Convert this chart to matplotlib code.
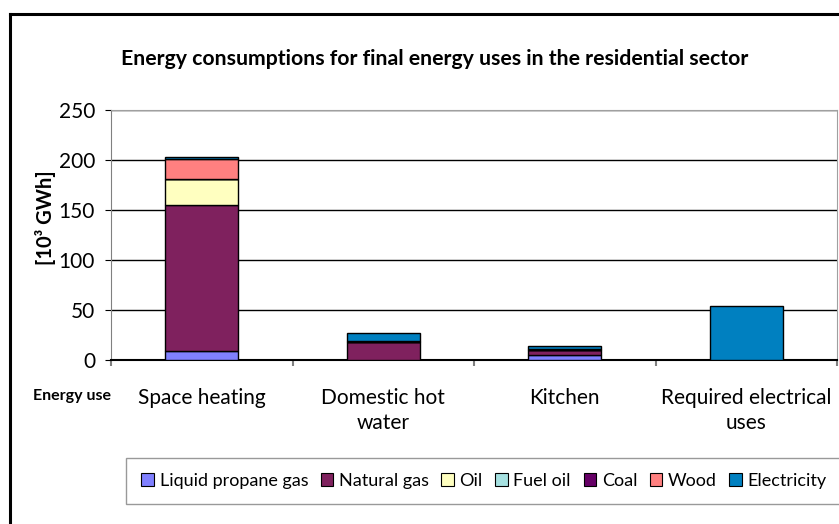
import numpy as np
import matplotlib.pyplot as plt
from matplotlib.patches import Rectangle
from matplotlib.lines import Line2D

plt.rcParams['font.family'] = ['Lato', 'DejaVu Sans']

# categories and stacked series (10^3 GWh)
categories = ['Space heating', 'Domestic hot\nwater', 'Kitchen', 'Required electrical\nuses']
series_names = ['Liquid propane gas', 'Natural gas', 'Oil', 'Fuel oil', 'Coal', 'Wood', 'Electricity']
lpg = [9.5, 0, 5.5, 0]
natural_gas = [145.5, 18, 4.5, 0]
oil = [26, 0, 0, 0]
fuel_oil = [0, 0, 0, 0]
coal = [0.5, 1.5, 1.5, 0]
wood = [20, 0, 0, 0]
electricity = [2, 7.5, 3, 54]
y_ticks = [0, 50, 100, 150, 200, 250]

colors = ['#8080FF', '#7F215E', '#FFFFC0', '#A6E1E1', '#660066', '#FF8080', '#0080C0']

W, H = 839, 524
fig = plt.figure(figsize=(W / 100, H / 100), dpi=100)
ax = fig.add_axes([111 / W, 1 - 360 / H, (837 - 111) / W, 250 / H])

x = np.arange(len(categories))
bottom = np.zeros(len(categories))
all_series = [lpg, natural_gas, oil, fuel_oil, coal, wood, electricity]
handles = []
for name, vals, col in zip(series_names, all_series, colors):
    vals = np.array(vals, dtype=float)
    ax.bar(x, vals, 0.4, bottom=bottom, color=col, edgecolor='black',
           linewidth=1, label=name, zorder=3)
    bottom += vals
    handles.append(Rectangle((0, 0), 1, 1, facecolor=col, edgecolor='black', linewidth=0.8))

ax.set_xlim(-0.5, len(categories) - 0.5)
ax.set_ylim(0, 250)
ax.set_yticks(y_ticks)
ax.tick_params(axis='y', direction='out', length=4.5, labelsize=15, colors='black', pad=7)
ax.grid(axis='y', color='black', linewidth=1, zorder=0)

# category boundaries as ticks, labels at centres
ax.set_xticks(np.arange(-0.5, len(categories), 1))
ax.set_xticklabels([])
ax.tick_params(axis='x', which='major', direction='out', length=4.5, color='#808080', width=1.5)
ax.set_xticks(x, minor=True)
ax.set_xticklabels(categories, minor=True, fontsize=15, linespacing=1.35)
ax.tick_params(axis='x', which='minor', length=0, pad=20)

for side in ['top', 'right']:
    ax.spines[side].set_color('#A0A0A0')
ax.spines['left'].set_color('#808080')
ax.spines['bottom'].set_color('black')
ax.spines['bottom'].set_linewidth(1.5)

fig.text(435 / W, 1 - 59 / H, 'Energy consumptions for final energy uses in the residential sector',
         ha='center', va='center', fontsize=15.3, fontweight='bold')
fig.text(45 / W, 1 - 218 / H, '[10³ GWh]', rotation=90, ha='center', va='center',
         fontsize=14.5, fontweight='bold')
fig.text(72 / W, 1 - 396 / H, 'Energy use', ha='center', va='center', fontsize=11.5, fontweight='bold')

fig.legend(handles, series_names, loc='center', bbox_to_anchor=(484 / W, 1 - 481 / H), ncol=7,
           fontsize=13, frameon=True, fancybox=False, edgecolor='#808080', handlelength=0.7,
           handleheight=0.7, handletextpad=0.3, columnspacing=0.7, borderpad=0.85,
           borderaxespad=0.2)

# outer chart frame (cut by the image edge)
fig.add_artist(Line2D([10 / W, 10 / W], [0, 1 - 14 / H], color='black', linewidth=2.2))
fig.add_artist(Line2D([10 / W, 1], [1 - 14 / H, 1 - 14 / H], color='black', linewidth=2.2))

fig.savefig('out.png', dpi=100)
